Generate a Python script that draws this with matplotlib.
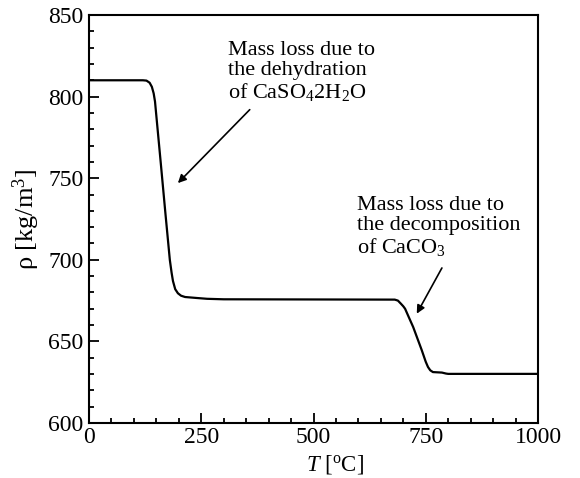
import numpy as np
import matplotlib
matplotlib.use('Agg')
import matplotlib.pyplot as plt
from matplotlib.ticker import MultipleLocator

plt.rcParams['font.family'] = 'Liberation Serif'
plt.rcParams['mathtext.fontset'] = 'custom'
plt.rcParams['mathtext.rm'] = 'Liberation Serif'
plt.rcParams['mathtext.it'] = 'Liberation Serif:italic'

# density curve
temp = [0, 120, 128, 135, 140, 144, 147, 160, 170, 180, 184, 187, 192, 198, 205,
        214, 240, 263, 300, 500, 681, 688, 695, 700, 704, 712, 722, 741, 750,
        755, 760, 766, 786, 795, 800, 1000]
rho = [810, 810, 809.8, 808.5, 806, 802, 797, 758.8, 729, 700, 692, 687, 682,
       679.5, 678, 677.2, 676.6, 676.1, 675.8, 675.7, 675.6, 675, 673, 671.5,
       670, 665, 658.8, 644.7, 637.5, 634.3, 632.3, 631.2, 630.9, 630.3, 630.1,
       630.1]

fig = plt.figure(figsize=(5.8, 4.78), dpi=100)
ax = fig.add_axes([89/580, 1 - 423/478, 449/580, 408/478])

ax.plot(temp, rho, color='black', lw=1.6)

ax.set_xlim(0, 1000)
ax.set_ylim(600, 850)
ax.xaxis.set_major_locator(MultipleLocator(250))
ax.xaxis.set_minor_locator(MultipleLocator(50))
ax.yaxis.set_major_locator(MultipleLocator(50))
ax.yaxis.set_minor_locator(MultipleLocator(10))
ax.tick_params(which='both', direction='in', labelsize=17, width=1.3)
ax.tick_params(axis='x', pad=3)
ax.tick_params(axis='y', pad=4)
ax.tick_params(which='major', length=7)
ax.tick_params(which='minor', length=3.5)
for s in ax.spines.values():
    s.set_linewidth(1.5)

ax.set_xlabel(r'$T$ [$^{\rm o}$C]', fontsize=16.5)
ax.xaxis.set_label_coords(0.548, -0.074)
ax.set_ylabel('ρ [kg/m$^3$]', fontsize=19)
ax.yaxis.set_label_coords(-0.105, 0.5)

ax.annotate('Mass loss due to\nthe dehydration\nof CaSO$_4$2H$_2$O',
            xy=(198, 747), xytext=(309, 834), fontsize=16, va='top',
            linespacing=1.05)
ax.annotate('', xy=(198, 747), xytext=(358, 792),
            arrowprops=dict(arrowstyle='-|>', color='black', lw=1.2,
                            mutation_scale=12, shrinkA=0, shrinkB=0))
ax.annotate('Mass loss due to\nthe decomposition\nof CaCO$_3$',
            xy=(730, 667), xytext=(597, 739), fontsize=16, va='top',
            linespacing=1.05)
ax.annotate('', xy=(730, 667), xytext=(786, 695),
            arrowprops=dict(arrowstyle='-|>', color='black', lw=1.2,
                            mutation_scale=12, shrinkA=0, shrinkB=0))

fig.savefig('out.png', dpi=100)
